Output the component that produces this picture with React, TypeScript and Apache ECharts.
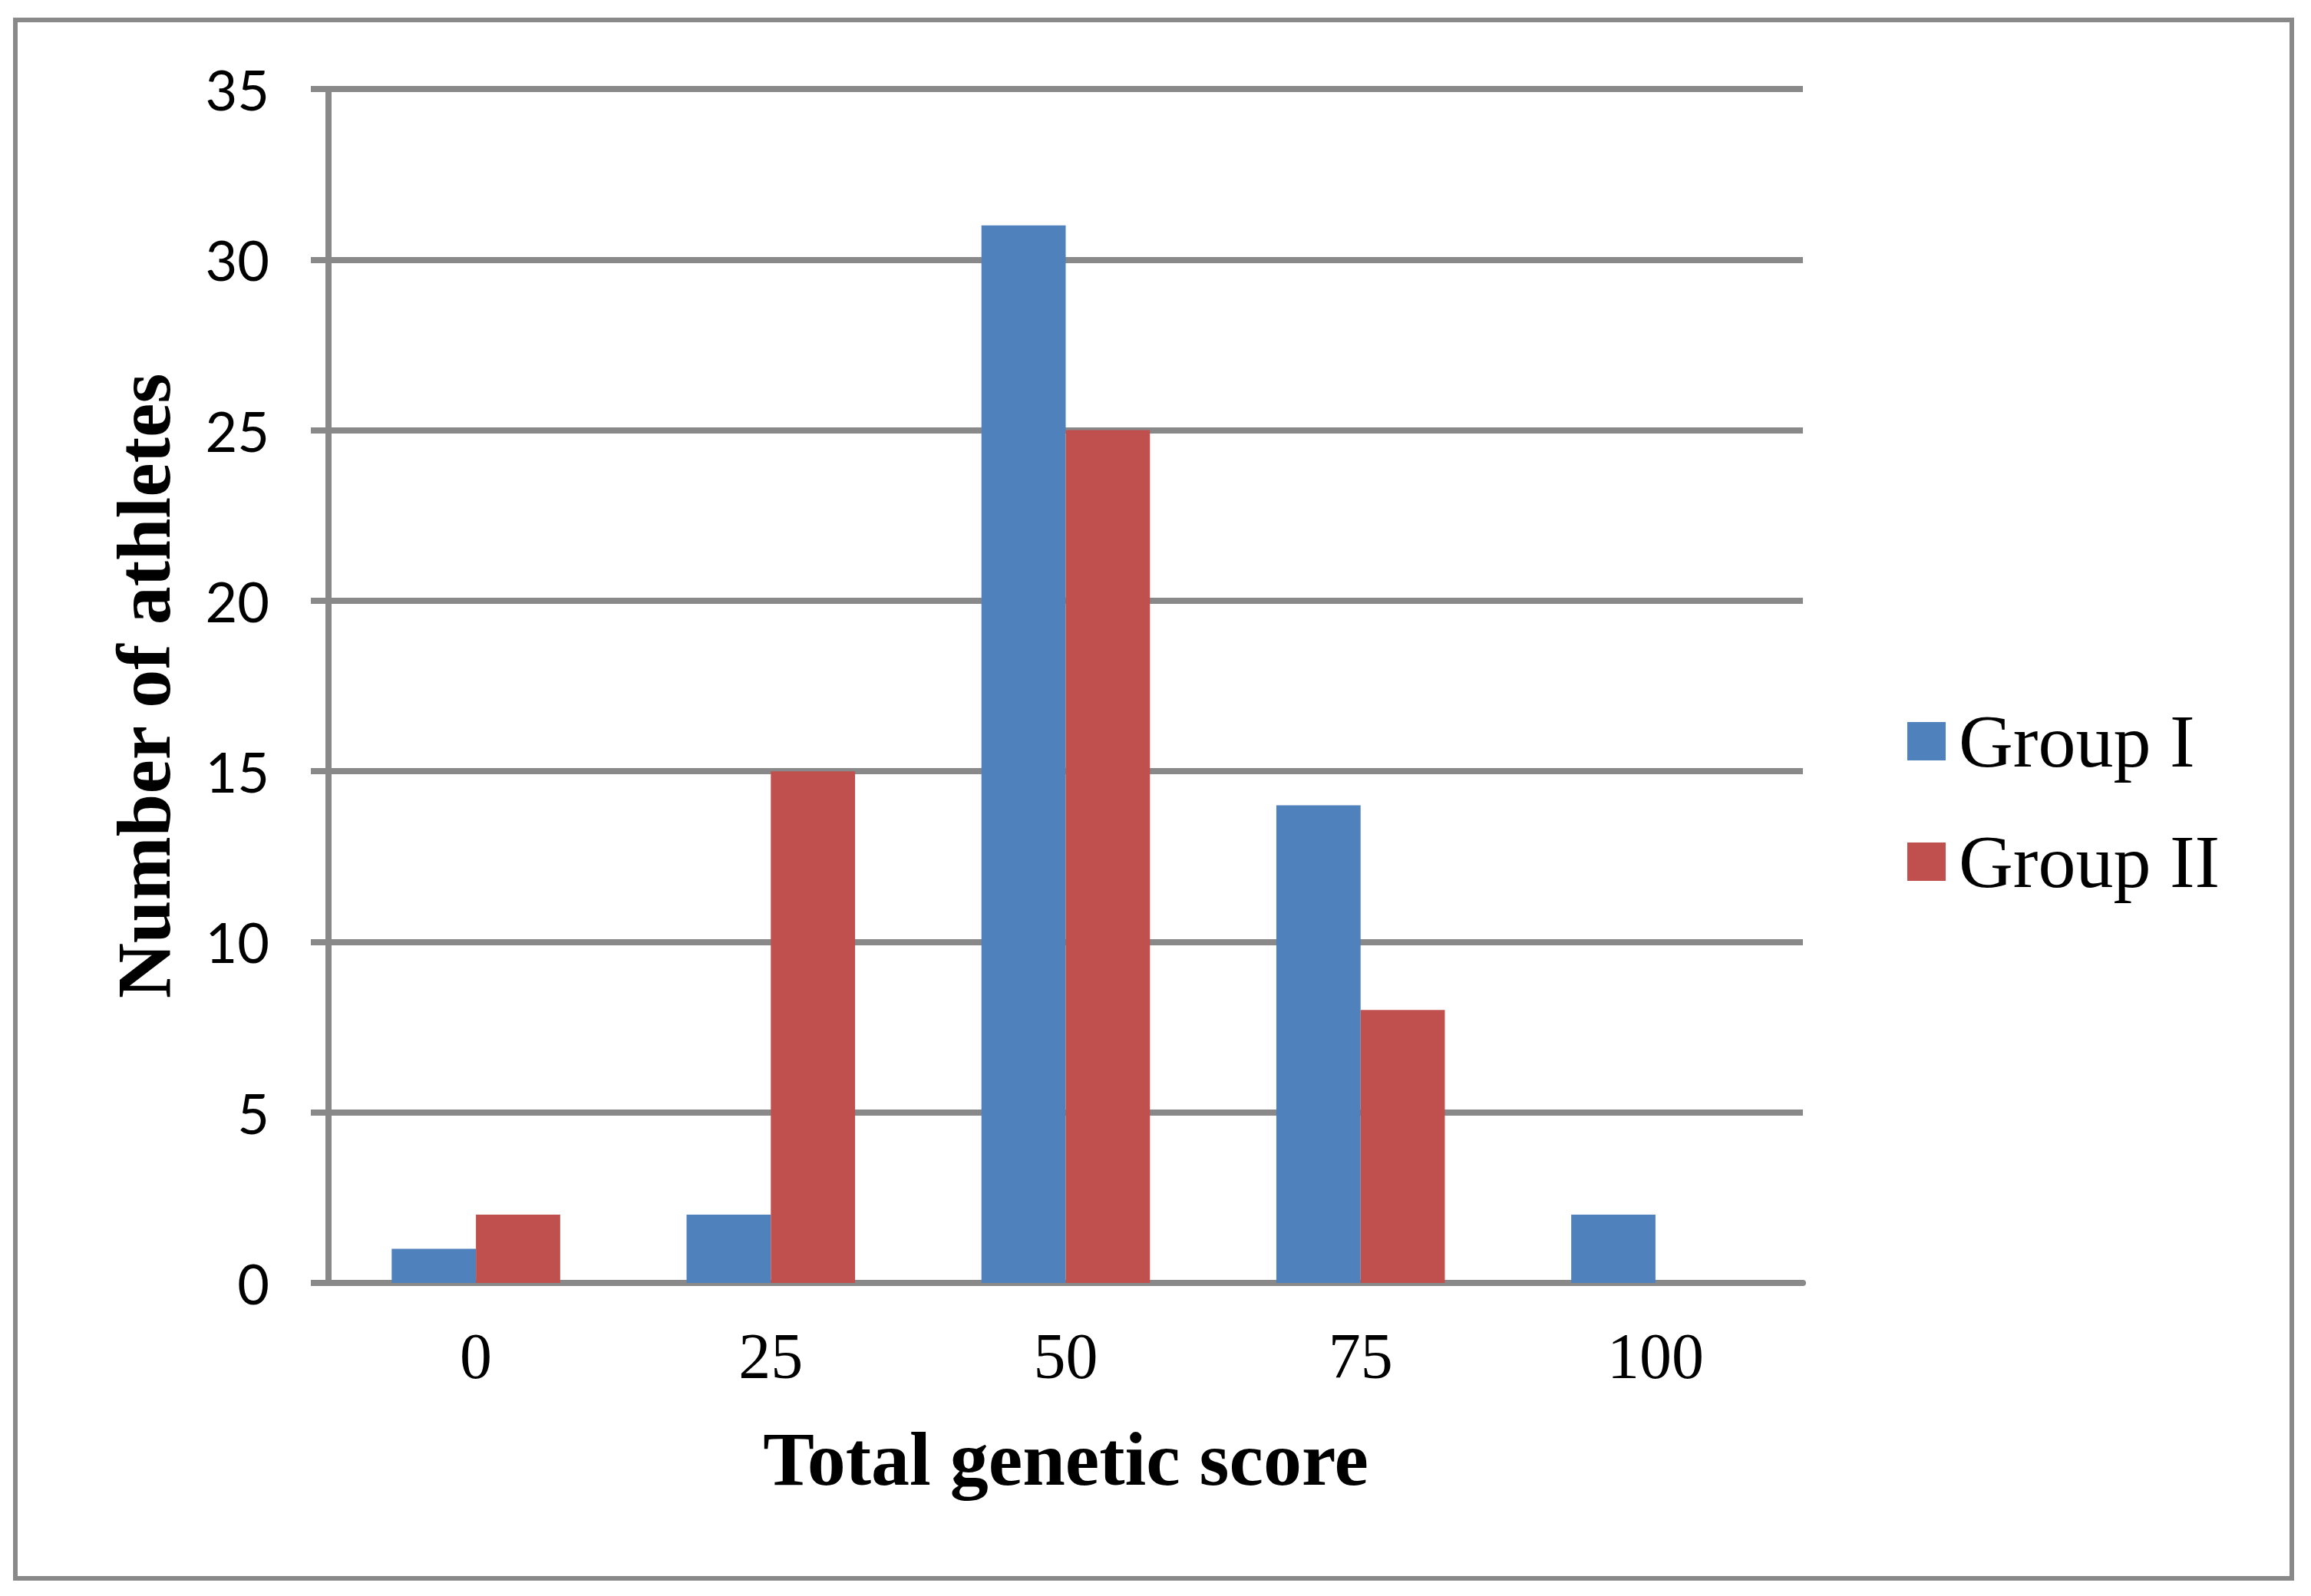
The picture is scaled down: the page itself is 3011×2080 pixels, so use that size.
import React, { useEffect, useRef } from "react";
import * as echarts from "echarts";

const categories = ["0", "25", "50", "75", "100"];
const groupI = [1, 2, 31, 14, 2];
const groupII = [2, 15, 25, 8, 0];
const seriesNames = ["Group I", "Group II"];
const xTitle = "Total genetic score";
const yTitle = "Number of athletes";

const GRAY = "#898989";

export default function App() {
  const ref = useRef<HTMLDivElement>(null);
  useEffect(() => {
    document.body.style.margin = "0";
    const chart = echarts.init(ref.current!, null, { renderer: "svg" });
    chart.setOption({
      animation: false,
      backgroundColor: "#ffffff",
      graphic: [
        {
          type: "rect",
          shape: { x: 20, y: 26, width: 2966, height: 2031 },
          style: { fill: "none", stroke: GRAY, lineWidth: 6 },
          silent: true,
        },
      ],
      grid: { left: 428, right: 662, top: 116, bottom: 408, containLabel: false },
      legend: {
        orient: "vertical",
        left: 2480,
        top: 912,
        itemWidth: 50,
        itemHeight: 50,
        itemGap: 59,
        icon: "rect",
        data: seriesNames,
        textStyle: {
          fontFamily: "Liberation Serif",
          fontSize: 98,
          lineHeight: 98,
          color: "#000",
          padding: [0, 0, 0, 12],
        },
      },
      xAxis: {
        type: "category",
        data: categories,
        name: xTitle,
        nameLocation: "middle",
        nameGap: 179,
        nameTextStyle: {
          fontFamily: "Liberation Serif",
          fontWeight: "bold",
          fontSize: 100,
          color: "#000",
        },
        axisLine: { show: true, lineStyle: { color: GRAY, width: 8 } },
        axisTick: { show: false },
        axisLabel: {
          margin: 53,
          fontFamily: "Liberation Serif",
          fontSize: 84,
          color: "#000",
        },
        splitLine: { show: false },
      },
      yAxis: {
        type: "value",
        min: 0,
        max: 35,
        interval: 5,
        name: yTitle,
        nameLocation: "middle",
        nameGap: 191,
        nameRotate: 90,
        nameTextStyle: {
          fontFamily: "Liberation Serif",
          fontWeight: "bold",
          fontSize: 100,
          color: "#000",
        },
        axisLine: { show: true, lineStyle: { color: GRAY, width: 8 } },
        axisTick: { show: true, length: 23, lineStyle: { color: GRAY, width: 8 } },
        axisLabel: {
          margin: 77,
          fontFamily: "Lato",
          fontSize: 72,
          color: "#000",
        },
        splitLine: { show: true, lineStyle: { color: GRAY, width: 8 } },
      },
      series: [
        {
          name: seriesNames[0],
          type: "bar",
          data: groupI,
          itemStyle: { color: "#4F81BD" },
          barGap: "0%",
          barCategoryGap: "42.86%",
        },
        {
          name: seriesNames[1],
          type: "bar",
          data: groupII,
          itemStyle: { color: "#C0504D" },
          barGap: "0%",
          barCategoryGap: "42.86%",
        },
      ],
    });
    return () => chart.dispose();
  }, []);
  return <div ref={ref} style={{ width: 3011, height: 2080 }} />;
}
